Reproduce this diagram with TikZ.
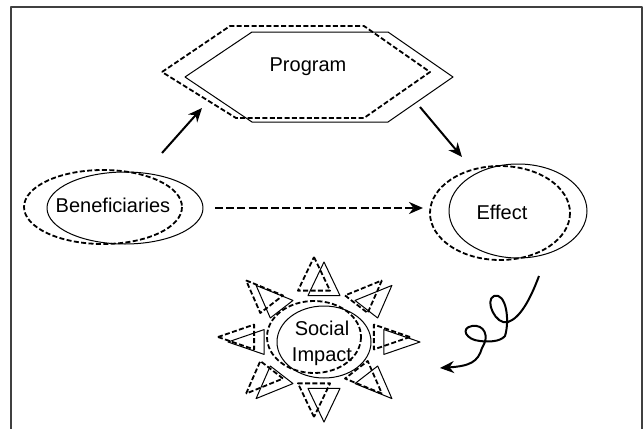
\documentclass[tikz,border=0pt]{standalone}
\usepackage{fontspec}
\setmainfont{Liberation Sans}
\usetikzlibrary{arrows.meta}

\begin{document}
\begin{tikzpicture}
	[x=0.5pt, y=-0.5pt, line join=round,
	thinline/.style={line width=0.5pt},
	dashline/.style={line width=0.9pt, dash pattern=on 2.5pt off 1.2pt},
	arrowline/.style={line width=1pt, -{Stealth[length=7pt,width=6pt]}},
	txt/.style={font=\fontsize{10}{13}\selectfont, align=center, inner sep=0pt}]
	\useasboundingbox (0,0) rectangle (644,429);
	\draw[line width=1pt, black!75] (11,429) -- (11,7) -- (642,7) -- (642,429);
	\draw[thinline] (185,77) -- (252,32) -- (388,32) -- (453,77) -- (388,122) -- (252,122) -- cycle;
	\draw[dashline] (162,72) -- (230,26) -- (364,26) -- (430,72) -- (364,118) -- (236,118) -- cycle;
	\draw[thinline] (125,208) ellipse [x radius=78, y radius=36];
	\draw[dashline] (103,207) ellipse [x radius=79, y radius=37];
	\draw[thinline] (518,211) ellipse [x radius=69, y radius=47];
	\draw[dashline] (500,213) ellipse [x radius=70, y radius=47];
	\foreach \cx/\cy/\sty in {324/342/thinline, 314/337/dashline}
	{	\draw[\sty] (\cx,\cy) ellipse [x radius=47, y radius=36];
		\foreach \a in {0,45,...,315}
			\draw[\sty, shift={(\cx,\cy)}] (\a:96 and 80) -- (\a+15:62 and 48) -- (\a-15:62 and 48) -- cycle;
		}
	\node[txt] (program) at (308,67) {Program};
	\node[txt] (beneficiaries) at (113,205) {Beneficiaries};
	\node[txt] (effect) at (502,212) {Effect};
	\node[txt] (impact) at (322,343) {Social\\Impact};
	\coordinate (benOut) at (162,153);
	\coordinate (progIn) at (202,108);
	\coordinate (progOut) at (420,107);
	\coordinate (effIn) at (462,157);
	\coordinate (benRight) at (215,208);
	\coordinate (effLeft) at (423,208);
	\coordinate (effBelow) at (539,276);
	\coordinate (impactIn) at (440,368);
	\draw[arrowline] (benOut) -- (progIn);
	\draw[arrowline] (progOut) -- (effIn);
	\draw[arrowline, line width=1.4pt, dash pattern=on 4pt off 1.6pt] (benRight) -- (effLeft);
	\draw[arrowline] (effBelow) .. controls (530,300) and (520,318) .. (508,322)
		.. controls (496,326) and (484,300) .. (494,296)
		.. controls (506,292) and (510,320) .. (505,336)
		.. controls (500,342) and (488,342) .. (480,341)
		.. controls (466,340) and (460,328) .. (472,326)
		.. controls (484,324) and (490,336) .. (482,348)
		.. controls (478,362) and (470,366) .. (impactIn);
	\end{tikzpicture}
\end{document}
